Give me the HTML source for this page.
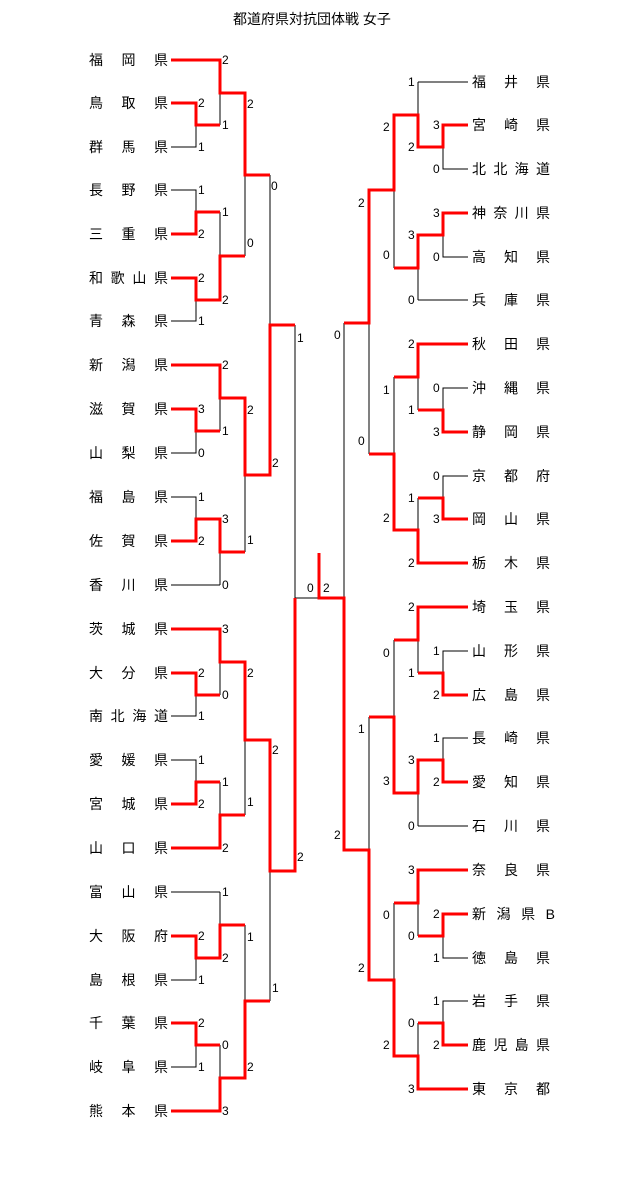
<!DOCTYPE html>
<html><head><meta charset="utf-8"><style>
html,body{margin:0;padding:0;background:#fff;}
svg{display:block;}
text{font-family:"Liberation Sans","Noto Sans CJK JP",sans-serif;}
.n{font-size:14px;dominant-baseline:central;fill:#000;}
.s{font-size:12px;dominant-baseline:central;fill:#000;}
.k{fill:none;stroke:#000;stroke-width:1;}
.r{fill:none;stroke:#f00;stroke-width:3;}
</style></head><body>
<svg width="640" height="1193" viewBox="0 0 640 1193" xmlns="http://www.w3.org/2000/svg">
<text x="233" y="19" style="font-size:14px;dominant-baseline:central">都道府県対抗団体戦 女子</text>
<path class="k" d="
M171 60H220 M171 103H196V147H171 M196 125H220 M220 60V125 M220 93H245
M171 190H196V234H171 M196 212H220 M171 278H196V321H171 M196 300H220 M220 212V300 M220 256H245 M245 93V256 M245 175H270
M171 365H220 M171 409H196V453H171 M196 431H220 M220 365V431 M220 398H245
M171 497H196V541H171 M196 519H220 M171 585H220 M220 519V585 M220 552H245 M245 398V552 M245 475H270 M270 175V475 M270 325H295
M171 629H220 M171 673H196V716H171 M196 695H220 M220 629V695 M220 662H245
M171 760H196V804H171 M196 782H220 M171 848H220 M220 782V848 M220 815H245 M245 662V815 M245 740H270
M171 892H220 M171 936H196V980H171 M196 958H220 M220 892V958 M220 925H245
M171 1023H196V1067H171 M196 1045H220 M171 1111H220 M220 1045V1111 M220 1078H245 M245 925V1078 M245 1001H270 M270 740V1001 M270 871H295
M295 325V871 M295 598H344 M344 323V850
M468 82H418 M468 125H443V169H468 M443 147H418 M418 82V147 M418 115H394
M468 213H443V257H468 M443 235H418 M468 300H418 M418 235V300 M418 268H394 M394 115V268 M394 190H369
M468 344H418 M468 388H443V432H468 M443 410H418 M418 344V410 M418 377H394
M468 476H443V519H468 M443 498H418 M468 563H418 M418 498V563 M418 530H394 M394 377V530 M394 454H369 M369 190V454 M369 323H344
M468 607H418 M468 651H443V695H468 M443 673H418 M418 607V673 M418 640H394
M468 738H443V782H468 M443 760H418 M468 826H418 M418 760V826 M418 793H394 M394 640V793 M394 717H369
M468 870H418 M468 914H443V958H468 M443 936H418 M418 870V936 M418 903H394
M468 1001H443V1045H468 M443 1023H418 M468 1089H418 M418 1023V1089 M418 1056H394 M394 903V1056 M394 980H369 M369 717V980 M369 850H344
"/>
<path class="r" d="
M171 60H220V93H245V175H270
M171 103H196V125H220
M171 234H196V212H220
M171 278H196V300H220V256H245
M171 365H220V398H245V475H270V325H295
M171 409H196V431H220
M171 541H196V519H220V552H245
M171 629H220V662H245V740H270V871H295V598
M171 673H196V695H220
M171 804H196V782H220
M171 848H220V815H245
M171 936H196V958H220V925H245
M171 1023H196V1045H220
M171 1111H220V1078H245V1001H270
M319 553V598H344V850H369V980H394V1056H418V1089H468
M468 125H443V147H418V115H394V190H369V323H344
M468 213H443V235H418V268H394
M468 344H418V377H394
M468 432H443V410H418
M468 519H443V498H418
M468 563H418V530H394V454H369
M468 607H418V640H394
M468 695H443V673H418
M468 782H443V760H418V793H394V717H369
M468 870H418V903H394
M468 914H443V936H418
M468 1045H443V1023H418
"/>
<g>
<text class="n" x="89" y="60" textLength="79" lengthAdjust="spacing">福岡県</text>
<text class="n" x="89" y="103" textLength="79" lengthAdjust="spacing">鳥取県</text>
<text class="n" x="89" y="147" textLength="79" lengthAdjust="spacing">群馬県</text>
<text class="n" x="89" y="190" textLength="79" lengthAdjust="spacing">長野県</text>
<text class="n" x="89" y="234" textLength="79" lengthAdjust="spacing">三重県</text>
<text class="n" x="89" y="278" textLength="79" lengthAdjust="spacing">和歌山県</text>
<text class="n" x="89" y="321" textLength="79" lengthAdjust="spacing">青森県</text>
<text class="n" x="89" y="365" textLength="79" lengthAdjust="spacing">新潟県</text>
<text class="n" x="89" y="409" textLength="79" lengthAdjust="spacing">滋賀県</text>
<text class="n" x="89" y="453" textLength="79" lengthAdjust="spacing">山梨県</text>
<text class="n" x="89" y="497" textLength="79" lengthAdjust="spacing">福島県</text>
<text class="n" x="89" y="541" textLength="79" lengthAdjust="spacing">佐賀県</text>
<text class="n" x="89" y="585" textLength="79" lengthAdjust="spacing">香川県</text>
<text class="n" x="89" y="629" textLength="79" lengthAdjust="spacing">茨城県</text>
<text class="n" x="89" y="673" textLength="79" lengthAdjust="spacing">大分県</text>
<text class="n" x="89" y="716" textLength="79" lengthAdjust="spacing">南北海道</text>
<text class="n" x="89" y="760" textLength="79" lengthAdjust="spacing">愛媛県</text>
<text class="n" x="89" y="804" textLength="79" lengthAdjust="spacing">宮城県</text>
<text class="n" x="89" y="848" textLength="79" lengthAdjust="spacing">山口県</text>
<text class="n" x="89" y="892" textLength="79" lengthAdjust="spacing">富山県</text>
<text class="n" x="89" y="936" textLength="79" lengthAdjust="spacing">大阪府</text>
<text class="n" x="89" y="980" textLength="79" lengthAdjust="spacing">島根県</text>
<text class="n" x="89" y="1023" textLength="79" lengthAdjust="spacing">千葉県</text>
<text class="n" x="89" y="1067" textLength="79" lengthAdjust="spacing">岐阜県</text>
<text class="n" x="89" y="1111" textLength="79" lengthAdjust="spacing">熊本県</text>
<text class="n" x="472" y="82" textLength="78" lengthAdjust="spacing">福井県</text>
<text class="n" x="472" y="125" textLength="78" lengthAdjust="spacing">宮崎県</text>
<text class="n" x="472" y="169" textLength="78" lengthAdjust="spacing">北北海道</text>
<text class="n" x="472" y="213" textLength="78" lengthAdjust="spacing">神奈川県</text>
<text class="n" x="472" y="257" textLength="78" lengthAdjust="spacing">高知県</text>
<text class="n" x="472" y="300" textLength="78" lengthAdjust="spacing">兵庫県</text>
<text class="n" x="472" y="344" textLength="78" lengthAdjust="spacing">秋田県</text>
<text class="n" x="472" y="388" textLength="78" lengthAdjust="spacing">沖縄県</text>
<text class="n" x="472" y="432" textLength="78" lengthAdjust="spacing">静岡県</text>
<text class="n" x="472" y="476" textLength="78" lengthAdjust="spacing">京都府</text>
<text class="n" x="472" y="519" textLength="78" lengthAdjust="spacing">岡山県</text>
<text class="n" x="472" y="563" textLength="78" lengthAdjust="spacing">栃木県</text>
<text class="n" x="472" y="607" textLength="78" lengthAdjust="spacing">埼玉県</text>
<text class="n" x="472" y="651" textLength="78" lengthAdjust="spacing">山形県</text>
<text class="n" x="472" y="695" textLength="78" lengthAdjust="spacing">広島県</text>
<text class="n" x="472" y="738" textLength="78" lengthAdjust="spacing">長崎県</text>
<text class="n" x="472" y="782" textLength="78" lengthAdjust="spacing">愛知県</text>
<text class="n" x="472" y="826" textLength="78" lengthAdjust="spacing">石川県</text>
<text class="n" x="472" y="870" textLength="78" lengthAdjust="spacing">奈良県</text>
<text class="n" x="472" y="914" textLength="83" lengthAdjust="spacing">新潟県B</text>
<text class="n" x="472" y="958" textLength="78" lengthAdjust="spacing">徳島県</text>
<text class="n" x="472" y="1001" textLength="78" lengthAdjust="spacing">岩手県</text>
<text class="n" x="472" y="1045" textLength="78" lengthAdjust="spacing">鹿児島県</text>
<text class="n" x="472" y="1089" textLength="78" lengthAdjust="spacing">東京都</text>
</g>
<g>
<text class="s" x="222" y="60">2</text><text class="s" x="198" y="103">2</text><text class="s" x="222" y="125">1</text><text class="s" x="198" y="147">1</text>
<text class="s" x="247" y="104">2</text><text class="s" x="271" y="186">0</text>
<text class="s" x="198" y="190">1</text><text class="s" x="222" y="212">1</text><text class="s" x="198" y="234">2</text><text class="s" x="247" y="243">0</text>
<text class="s" x="198" y="278">2</text><text class="s" x="222" y="300">2</text><text class="s" x="198" y="321">1</text><text class="s" x="297" y="338">1</text>
<text class="s" x="222" y="365">2</text><text class="s" x="198" y="409">3</text><text class="s" x="222" y="431">1</text><text class="s" x="198" y="453">0</text>
<text class="s" x="247" y="410">2</text><text class="s" x="198" y="497">1</text><text class="s" x="222" y="519">3</text><text class="s" x="198" y="541">2</text>
<text class="s" x="247" y="540">1</text><text class="s" x="222" y="585">0</text><text class="s" x="272" y="463">2</text>
<text class="s" x="222" y="629">3</text><text class="s" x="198" y="673">2</text><text class="s" x="222" y="695">0</text><text class="s" x="198" y="716">1</text>
<text class="s" x="247" y="673">2</text><text class="s" x="198" y="760">1</text><text class="s" x="222" y="782">1</text><text class="s" x="198" y="804">2</text>
<text class="s" x="222" y="848">2</text><text class="s" x="247" y="802">1</text><text class="s" x="272" y="750">2</text>
<text class="s" x="222" y="892">1</text><text class="s" x="198" y="936">2</text><text class="s" x="222" y="958">2</text><text class="s" x="198" y="980">1</text>
<text class="s" x="247" y="937">1</text><text class="s" x="198" y="1023">2</text><text class="s" x="222" y="1045">0</text><text class="s" x="198" y="1067">1</text>
<text class="s" x="222" y="1111">3</text><text class="s" x="247" y="1067">2</text><text class="s" x="272" y="988">1</text><text class="s" x="297" y="857">2</text>
<text class="s" x="307" y="588">0</text><text class="s" x="323" y="588">2</text>
<text class="s" x="408" y="82">1</text><text class="s" x="433" y="125">3</text><text class="s" x="408" y="147">2</text><text class="s" x="433" y="169">0</text>
<text class="s" x="383" y="127">2</text><text class="s" x="433" y="213">3</text><text class="s" x="408" y="235">3</text><text class="s" x="433" y="257">0</text>
<text class="s" x="383" y="255">0</text><text class="s" x="408" y="300">0</text><text class="s" x="358" y="203">2</text><text class="s" x="334" y="335">0</text>
<text class="s" x="408" y="344">2</text><text class="s" x="433" y="388">0</text><text class="s" x="408" y="410">1</text><text class="s" x="433" y="432">3</text>
<text class="s" x="383" y="390">1</text><text class="s" x="433" y="476">0</text><text class="s" x="408" y="498">1</text><text class="s" x="433" y="519">3</text>
<text class="s" x="383" y="518">2</text><text class="s" x="408" y="563">2</text><text class="s" x="358" y="441">0</text>
<text class="s" x="408" y="607">2</text><text class="s" x="433" y="651">1</text><text class="s" x="408" y="673">1</text><text class="s" x="433" y="695">2</text>
<text class="s" x="383" y="653">0</text><text class="s" x="433" y="738">1</text><text class="s" x="408" y="760">3</text><text class="s" x="433" y="782">2</text>
<text class="s" x="408" y="826">0</text><text class="s" x="383" y="781">3</text><text class="s" x="358" y="729">1</text>
<text class="s" x="408" y="870">3</text><text class="s" x="433" y="914">2</text><text class="s" x="408" y="936">0</text><text class="s" x="433" y="958">1</text>
<text class="s" x="383" y="915">0</text><text class="s" x="433" y="1001">1</text><text class="s" x="408" y="1023">0</text><text class="s" x="433" y="1045">2</text>
<text class="s" x="408" y="1089">3</text><text class="s" x="383" y="1045">2</text><text class="s" x="358" y="968">2</text><text class="s" x="334" y="835">2</text>
</g>
</svg>
</body></html>
